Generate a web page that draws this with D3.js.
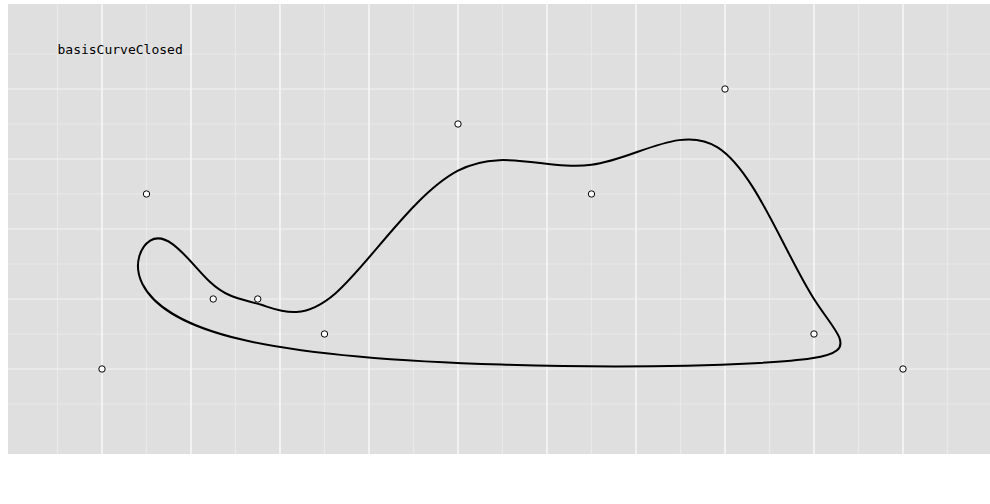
<!DOCTYPE html>
<html>
<head>
<meta charset="utf-8">
<script src="https://cdn.jsdelivr.net/npm/d3@7"></script>
<style>
  html, body { margin: 0; padding: 0; background: #fff; }
  svg { display: block; }
</style>
</head>
<body>
<svg id="chart" width="990" height="504"></svg>
<script>
// ---- data ----
const title = "basisCurveClosed";
const xValues = [0, 10, 25, 35, 50, 80, 110, 140, 160, 180];
const yValues = [0, 50, 20, 20, 10, 70, 50, 80, 10, 0];
const xMajorTicks = [0, 20, 40, 60, 80, 100, 120, 140, 160, 180];
const xMinorTicks = [-10, 10, 30, 50, 70, 90, 110, 130, 150, 170, 190];
const yMajorTicks = [0, 20, 40, 60, 80];
const yMinorTicks = [-10, 10, 30, 50, 70, 90];
const titlePos = [-10, 90];

// ---- layout ----
const panel = { left: 8, right: 990, top: 4, bottom: 454 };
const x = d3.scaleLinear().domain([-21.12, 199.55]).range([panel.left, panel.right]);
const y = d3.scaleLinear().domain([-24.29, 104.29]).range([panel.bottom, panel.top]);

const svg = d3.select("#chart");

svg.append("rect")
  .attr("x", panel.left).attr("y", panel.top)
  .attr("width", panel.right - panel.left).attr("height", panel.bottom - panel.top)
  .attr("fill", "#dfdfdf");

const grid = svg.append("g");
// minor grid
grid.selectAll("line.vmin").data(xMinorTicks).enter().append("line")
  .attr("class", "vmin")
  .attr("x1", d => x(d)).attr("x2", d => x(d))
  .attr("y1", panel.top).attr("y2", panel.bottom)
  .attr("stroke", "#e9e9e9").attr("stroke-width", 1.2);
grid.selectAll("line.hmin").data(yMinorTicks).enter().append("line")
  .attr("class", "hmin")
  .attr("y1", d => y(d)).attr("y2", d => y(d))
  .attr("x1", panel.left).attr("x2", panel.right)
  .attr("stroke", "#e9e9e9").attr("stroke-width", 1.2);
// major grid
grid.selectAll("line.vmaj").data(xMajorTicks).enter().append("line")
  .attr("class", "vmaj")
  .attr("x1", d => x(d)).attr("x2", d => x(d))
  .attr("y1", panel.top).attr("y2", panel.bottom)
  .attr("stroke", "#ffffff").attr("stroke-width", 1.2);
grid.selectAll("line.hmaj").data(yMajorTicks).enter().append("line")
  .attr("class", "hmaj")
  .attr("y1", d => y(d)).attr("y2", d => y(d))
  .attr("x1", panel.left).attr("x2", panel.right)
  .attr("stroke", "#f4f4f4").attr("stroke-width", 1.2);

const points = xValues.map((v, i) => [v, yValues[i]]);

const line = d3.line()
  .x(d => x(d[0]))
  .y(d => y(d[1]))
  .curve(d3.curveBasisClosed);

svg.append("path")
  .datum(points)
  .attr("d", line)
  .attr("fill", "none")
  .attr("stroke", "#000")
  .attr("stroke-width", 2);

svg.selectAll("circle.pt").data(points).enter().append("circle")
  .attr("class", "pt")
  .attr("cx", d => x(d[0]))
  .attr("cy", d => y(d[1]))
  .attr("r", 3.2)
  .attr("fill", "#fff")
  .attr("stroke", "#000")
  .attr("stroke-width", 1);

svg.append("text")
  .attr("x", x(titlePos[0]))
  .attr("y", y(titlePos[1]))
  .attr("font-family", "'DejaVu Sans Mono', monospace")
  .attr("font-size", 13)
  .attr("fill", "#000")
  .text(title);
</script>
</body>
</html>
